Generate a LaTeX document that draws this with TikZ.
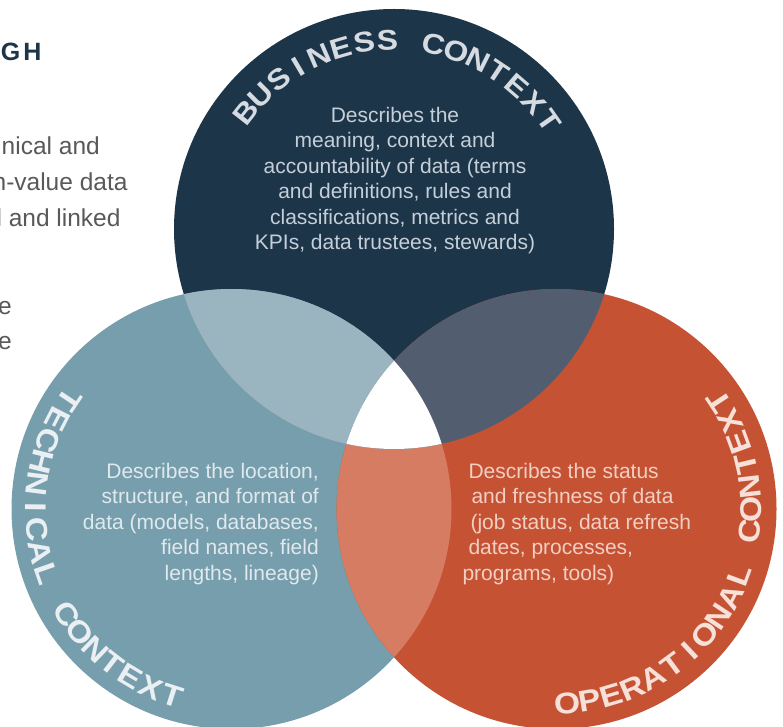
\documentclass[tikz,border=0pt]{standalone}
\usepackage{fontspec}
\setmainfont{Liberation Sans}

\definecolor{bizblue}{HTML}{1D3549}
\definecolor{techblue}{HTML}{779EAD}
\definecolor{opsred}{HTML}{C65234}
\definecolor{biztech}{HTML}{9AB5C0}
\definecolor{bizops}{HTML}{535D70}
\definecolor{techops}{HTML}{D57C62}
\definecolor{biztext}{HTML}{C5CFD9}
\definecolor{techtext}{HTML}{E0E9ED}
\definecolor{opstext}{HTML}{F2CFC3}
\definecolor{biztitle}{HTML}{D5DBE1}
\definecolor{techtitle}{HTML}{E9EFF2}
\definecolor{opstitle}{HTML}{F7E0D8}
\definecolor{bodygray}{HTML}{595959}

\newcommand\biztitlefont{\fontsize{28.5}{28.5}\selectfont\bfseries}
\newcommand\ringtitlefont{\fontsize{30}{30}\selectfont\bfseries}

\newlength\arcchw
\makeatletter
% \arctitle{centre}{baseline radius}{angle of first letter}{angle of last letter}
%          {+1 counter-clockwise / -1 clockwise}{font}{letter style}{letters}{horizontal stretch}
% Letters are spread evenly (extra tracking) between the two angles.
\newcommand\arctitle[9]{%
  \gdef\arc@n{0}\gdef\arc@sum{0}\gdef\arc@first{0}\gdef\arc@last{0}%
  \foreach \arcch in {#8}{%
    \settowidth\arcchw{#6\arcch}%
    \pgfmathsetmacro\arc@w{#9*\arcchw}%
    \pgfmathsetmacro\arc@tmp{\arc@sum+\arc@w}\xdef\arc@sum{\arc@tmp}%
    \pgfmathtruncatemacro\arc@tmpn{\arc@n+1}\xdef\arc@n{\arc@tmpn}%
    \ifnum\arc@n=1 \xdef\arc@first{\arc@w}\fi
    \xdef\arc@last{\arc@w}%
  }%
  \pgfmathsetmacro\arc@trk{(abs(#4-#3)*pi/180*#2-(\arc@sum-\arc@first/2-\arc@last/2))/(\arc@n-1)}%
  \xdef\arc@track{\arc@trk}%
  \gdef\arc@pos{0}\gdef\arc@prev{-1}%
  \foreach \arcch in {#8}{%
    \settowidth\arcchw{#6\arcch}%
    \pgfmathsetmacro\arc@w{#9*\arcchw}%
    \ifdim\arc@prev pt<0pt\else
      \pgfmathsetmacro\arc@tmp{\arc@pos+\arc@prev/2+\arc@track+\arc@w/2}\xdef\arc@pos{\arc@tmp}%
    \fi
    \xdef\arc@prev{\arc@w}%
    \pgfmathsetmacro\arc@ang{#3+#5*deg(\arc@pos/#2)}%
    \pgfmathsetmacro\arc@rot{\arc@ang+#5*90}%
    \node[anchor=base, inner sep=0pt, rotate=\arc@rot, xscale=#9, #7]
      at ([shift={(\arc@ang:#2pt)}]#1) {#6\arcch};
  }%
}
\makeatother

\begin{document}
\begin{tikzpicture}[x=1pt,y=1pt,
  desc/.style={inner sep=0pt, font=\fontsize{21}{25.5}\selectfont},
  bodytext/.style={inner sep=0pt, text=bodygray, anchor=base east,
    font=\fontsize{24.5}{24.5}\selectfont},
  headline/.style={inner sep=0pt, text=bizblue, anchor=base east,
    font=\fontsize{25}{25}\selectfont\bfseries}]
\useasboundingbox (0,0) rectangle (783,726);
\fill[white] (0,0) rectangle (783,726);
\clip (0,0) rectangle (783,726);

% introductory text running off the left edge
\node[headline] (head) at (41.7,665.3) {G\kern3pt H};
\node[bodytext] (intro1) at (100,571) {nical and};
\node[bodytext] (intro2) at (127.7,535.3) {n-value data};
\node[bodytext] (intro3) at (120.7,499.3) {l and linked};
\node[bodytext] (intro4) at (12,411) {e};
\node[bodytext] (intro5) at (12,376) {e};

% circle centres
\def\rad{220pt}
\coordinate (B) at (394,497);
\coordinate (T) at (231.5,217);
\coordinate (O) at (556.5,217);

% the three contexts
\fill[bizblue] (B) circle[radius=\rad];
\fill[techblue] (T) circle[radius=\rad];
\fill[opsred] (O) circle[radius=\rad];

% technical & operational
\begin{scope}
  \clip (T) circle[radius=\rad];
  \fill[techops] (O) circle[radius=\rad];
\end{scope}
% business & technical, business & operational, and the common core
\begin{scope}
  \clip (B) circle[radius=\rad];
  \fill[biztech] (T) circle[radius=\rad];
  \fill[bizops] (O) circle[radius=\rad];
  \clip (T) circle[radius=\rad];
  \fill[white] (O) circle[radius=\rad];
\end{scope}

% descriptions (anchored on the baseline of their last line)
\node[desc, text=biztext, align=center, anchor=base] (bizdesc) at (395,476)
  {Describes the\\meaning, context and\\accountability of data (terms\\and definitions, rules and\\classifications, metrics and\\KPIs, data trustees, stewards)};
\node[desc, text=techtext, align=right, anchor=base east] (techdesc) at (319,146)
  {Describes the location,\\structure, and format of\hspace*{6pt}\\data (models, databases,\\field names, field\\lengths, lineage)};
\node[desc, text=opstext, align=left, anchor=base west] (opsdesc) at (462.3,146)
  {\hspace*{6pt}Describes the status\\\hspace*{9pt}and freshness of data\\\hspace*{8pt}(job status, data refresh\\\hspace*{6pt}dates, processes,\\programs, tools)};

% curved titles
\arctitle{B}{179}{141.9}{35}{-1}{\biztitlefont}{text=biztitle}{B,U,S,I,N,E,S,S,~,C,O,N,T,E,X,T}{1.12}
\arctitle{T}{206}{146.2}{252.3}{1}{\ringtitlefont}{text=techtitle}{T,E,C,H,N,I,C,A,L,~,C,O,N,T,E,X,T}{1.12}
\arctitle{O}{205}{273.1}{393.4}{1}{\ringtitlefont}{text=opstitle}{O,P,E,R,A,T,I,O,N,A,L,~,C,O,N,T,E,X,T}{1.12}
\end{tikzpicture}
\end{document}
